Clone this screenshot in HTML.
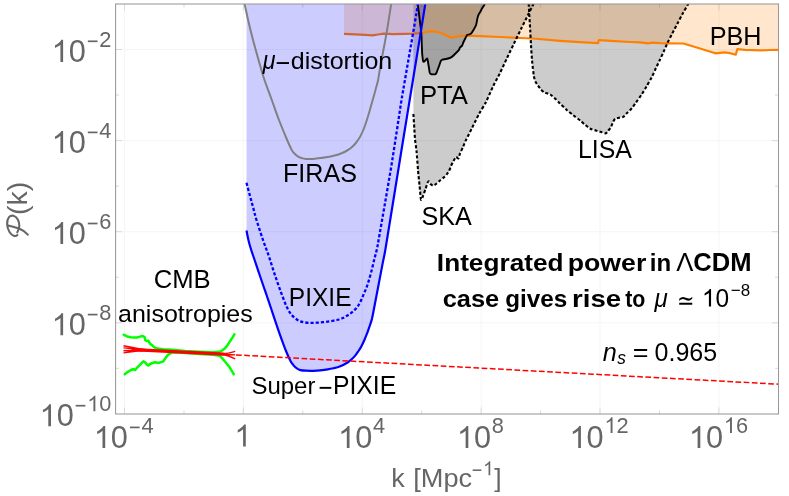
<!DOCTYPE html>
<html><head><meta charset="utf-8"><title>Power spectrum constraints</title>
<style>html,body{margin:0;padding:0;background:#fff;}body{width:789px;height:496px;overflow:hidden;font-family:"Liberation Sans",sans-serif;}svg text{white-space:pre;}</style>
</head><body>
<svg width="789" height="496" viewBox="0 0 789 496" style="display:block;will-change:transform">
<rect x="0" y="0" width="789" height="496" fill="#fff"/>
<defs><clipPath id="cp"><rect x="115.6" y="4.0" width="662.9" height="410.0"/></clipPath></defs>
<path d="M124.5 4.0 V414.0 M243.4 4.0 V414.0 M362.3 4.0 V414.0 M481.2 4.0 V414.0 M600.0 4.0 V414.0 M718.9 4.0 V414.0 M115.6 49.5 H778.5 M115.6 140.6 H778.5 M115.6 231.7 H778.5 M115.6 322.8 H778.5" stroke="#f5f5f5" stroke-width="1" fill="none"/>
<path d="M124.5 414.0 v-6.5 M124.5 4.0 v6.5 M184.0 414.0 v-3.5 M184.0 4.0 v3.5 M243.4 414.0 v-6.5 M243.4 4.0 v6.5 M302.8 414.0 v-3.5 M302.8 4.0 v3.5 M362.3 414.0 v-6.5 M362.3 4.0 v6.5 M421.7 414.0 v-3.5 M421.7 4.0 v3.5 M481.2 414.0 v-6.5 M481.2 4.0 v6.5 M540.6 414.0 v-3.5 M540.6 4.0 v3.5 M600.0 414.0 v-6.5 M600.0 4.0 v6.5 M659.5 414.0 v-3.5 M659.5 4.0 v3.5 M718.9 414.0 v-6.5 M718.9 4.0 v6.5 M115.6 368.3 h3.5 M778.5 368.3 h-3.5 M115.6 322.8 h6.5 M778.5 322.8 h-6.5 M115.6 277.2 h3.5 M778.5 277.2 h-3.5 M115.6 231.7 h6.5 M778.5 231.7 h-6.5 M115.6 186.1 h3.5 M778.5 186.1 h-3.5 M115.6 140.6 h6.5 M778.5 140.6 h-6.5 M115.6 95.0 h3.5 M778.5 95.0 h-3.5 M115.6 49.5 h6.5 M778.5 49.5 h-6.5" stroke="#dadada" stroke-width="1" fill="none"/>
<g clip-path="url(#cp)">
<path d="M413.4 4.0 L413.4 114.0 C413.5 115.6 414.1 125.0 414.3 128.0 C414.5 131.0 414.8 137.2 415.1 140.0 C415.4 142.8 416.3 148.5 416.6 152.0 C416.9 155.5 417.7 166.2 418.0 170.0 C418.3 173.8 419.1 181.5 419.5 185.0 C419.9 188.5 420.6 198.3 421.0 199.6 C421.4 200.9 422.5 197.2 423.0 196.0 C423.5 194.8 425.0 190.5 425.5 189.0 C426.0 187.5 427.1 183.9 427.5 183.0 C427.9 182.1 428.3 181.1 428.7 181.2 C429.1 181.3 430.0 183.5 430.5 184.0 C431.0 184.5 432.4 185.6 433.0 185.6 C433.6 185.6 435.2 184.6 436.0 184.0 C436.8 183.4 439.0 181.3 440.0 180.5 C441.0 179.7 443.7 177.6 444.5 176.8 C445.3 176.0 446.5 174.7 447.0 174.0 C447.5 173.3 448.5 171.9 449.0 171.0 C449.5 170.1 450.5 167.2 451.0 166.0 C451.5 164.8 452.9 162.1 453.5 161.0 C454.1 159.9 455.4 157.3 456.0 157.0 C456.6 156.7 457.9 158.8 458.4 158.4 C458.9 158.0 459.5 154.8 460.0 153.5 C460.5 152.2 462.3 148.6 463.0 147.0 C463.7 145.4 464.9 142.2 466.0 140.0 C467.1 137.8 470.5 131.0 472.0 128.0 C473.5 125.0 477.4 117.0 479.0 114.0 C480.6 111.0 484.4 105.2 486.0 102.0 C487.6 98.8 491.4 89.9 493.0 86.5 C494.6 83.1 498.4 76.3 500.0 73.0 C501.6 69.7 505.4 61.4 507.0 58.0 C508.6 54.6 512.4 46.9 514.0 43.5 C515.6 40.1 519.4 32.3 521.0 29.0 C522.6 25.7 526.5 18.0 528.0 15.0 C529.5 12.0 533.0 4.9 533.7 3.6 Z" fill="#000" fill-opacity="0.2"/>
<path d="M528.7 3.6 C528.8 5.1 529.1 11.5 529.3 15.0 C529.5 18.5 530.0 26.0 530.2 30.0 C530.4 34.0 530.8 41.0 531.0 45.0 C531.2 49.0 531.7 56.5 532.0 60.0 C532.3 63.5 532.9 68.8 533.2 71.0 C533.5 73.2 533.6 75.1 533.9 76.5 C534.2 77.9 534.9 80.3 535.4 81.5 C535.9 82.7 537.3 84.4 538.0 85.5 C538.7 86.6 540.2 88.6 541.0 89.5 C541.8 90.4 543.4 92.0 544.2 92.5 C545.0 93.0 546.2 93.0 547.0 93.3 C547.8 93.6 549.4 93.9 550.3 94.5 C551.2 95.1 552.7 96.3 554.0 97.5 C555.3 98.7 558.3 101.9 560.0 103.5 C561.7 105.1 564.8 108.2 566.5 109.7 C568.2 111.2 571.1 113.5 573.0 115.0 C574.9 116.5 579.0 119.5 580.7 120.9 C582.4 122.3 584.6 124.4 586.0 125.5 C587.4 126.6 589.6 128.3 590.9 129.0 C592.2 129.7 594.7 130.1 596.0 130.5 C597.3 130.9 599.2 131.4 600.5 131.8 C601.8 132.2 604.5 133.5 605.5 133.4 C606.5 133.3 607.3 131.9 608.0 131.0 C608.7 130.1 610.3 128.2 611.0 127.0 C611.7 125.8 612.4 123.1 613.0 122.0 C613.6 120.9 614.4 119.4 615.2 118.8 C616.0 118.2 617.9 118.1 619.0 117.8 C620.1 117.5 622.2 117.4 623.3 116.8 C624.4 116.2 625.9 114.1 627.0 113.0 C628.1 111.9 630.2 110.1 631.4 108.7 C632.6 107.3 634.6 104.4 636.0 102.5 C637.4 100.6 640.2 96.6 641.6 94.5 C643.0 92.4 645.2 88.8 646.5 86.5 C647.8 84.2 650.4 79.7 651.7 77.2 C653.0 74.7 654.9 70.3 656.0 68.0 C657.1 65.7 658.8 62.1 659.8 60.0 C660.8 57.9 662.5 54.2 663.5 52.0 C664.5 49.8 666.2 45.7 667.3 43.3 C668.4 40.9 670.6 36.8 672.0 34.0 C673.4 31.2 676.5 25.3 678.0 22.5 C679.5 19.7 681.6 15.5 683.0 13.0 C684.4 10.5 687.8 4.9 688.5 3.6 Z" fill="#000" fill-opacity="0.2"/>
<path d="M417.7 3.6 C417.9 5.3 419.1 14.6 419.5 18.0 C419.9 21.4 421.0 29.9 421.3 33.0 C421.6 36.1 421.7 42.4 421.8 45.0 C421.9 47.6 422.1 53.1 422.3 55.0 C422.5 56.9 422.9 60.8 423.2 61.5 C423.5 62.2 424.3 61.4 424.8 61.0 C425.3 60.6 426.8 58.3 427.2 58.4 C427.6 58.5 427.8 60.9 428.0 62.0 C428.2 63.1 428.8 66.7 429.0 68.0 C429.2 69.3 429.5 72.3 429.8 73.0 C430.1 73.7 430.8 74.1 431.5 74.2 C432.2 74.3 434.9 74.5 435.5 74.2 C436.1 73.9 436.6 72.5 437.0 71.5 C437.4 70.5 438.9 66.5 439.3 65.3 C439.7 64.1 440.4 61.7 440.8 61.0 C441.2 60.3 441.9 59.8 442.5 59.6 C443.1 59.4 445.0 59.2 446.0 59.0 C447.0 58.8 449.8 58.2 450.7 57.7 C451.6 57.2 453.3 55.7 454.0 55.0 C454.7 54.3 456.4 52.6 457.0 52.0 C457.6 51.4 458.6 50.3 459.0 49.8 C459.4 49.3 459.6 48.0 460.0 47.5 C460.4 47.0 461.7 46.2 462.1 45.6 C462.5 45.0 463.1 42.9 463.5 42.0 C463.9 41.1 465.1 38.8 465.5 38.0 C465.9 37.2 466.8 35.3 467.2 34.9 C467.6 34.5 468.6 34.7 469.0 34.5 C469.4 34.3 470.5 34.1 471.0 33.6 C471.5 33.1 472.9 31.0 473.5 30.0 C474.1 29.0 475.5 26.8 476.0 25.3 C476.5 23.8 477.3 18.7 477.6 17.5 C477.9 16.3 478.3 15.3 478.6 14.6 C478.9 13.9 480.1 12.3 480.5 11.5 C480.9 10.7 481.8 8.9 482.3 8.0 C482.8 7.1 484.7 4.1 485.0 3.6 Z" fill="#000" fill-opacity="0.2"/>
<path d="M344 4.0 L344.0 33.9 L355.0 34.3 L365.0 34.9 L372.7 35.4 L378.0 34.5 L383.6 33.6 L392.6 34.1 L405.0 33.8 L412.6 33.6 L419.9 33.2 L422.0 33.0 L427.0 31.8 L432.0 31.2 L437.0 32.0 L442.0 33.5 L447.0 35.8 L450.5 37.3 L453.0 37.6 L456.0 36.8 L460.0 36.0 L468.0 35.7 L480.0 36.1 L500.0 37.0 L520.0 38.0 L533.0 38.5 L560.0 40.8 L580.0 42.2 L598.0 43.2 L598.8 40.2 L615.0 41.2 L630.0 42.0 L640.0 42.4 L648.0 43.3 L652.0 42.6 L660.0 43.2 L667.0 43.3 L683.4 43.5 L700.0 48.5 L713.0 52.5 L715.7 53.4 L720.0 52.9 L724.8 52.4 L730.0 53.2 L735.8 54.6 L737.3 49.2 L745.0 49.8 L761.0 50.4 L770.0 50.0 L778.7 49.8 L778.5 4.0 Z" fill="rgb(255,128,0)" fill-opacity="0.2"/>
<path d="M344.0 33.9 L355.0 34.3 L365.0 34.9 L372.7 35.4 L378.0 34.5 L383.6 33.6 L392.6 34.1 L405.0 33.8 L412.6 33.6 L419.9 33.2 L422.0 33.0 L427.0 31.8 L432.0 31.2 L437.0 32.0 L442.0 33.5 L447.0 35.8 L450.5 37.3 L453.0 37.6 L456.0 36.8 L460.0 36.0 L468.0 35.7 L480.0 36.1 L500.0 37.0 L520.0 38.0 L533.0 38.5 L560.0 40.8 L580.0 42.2 L598.0 43.2 L598.8 40.2 L615.0 41.2 L630.0 42.0 L640.0 42.4 L648.0 43.3 L652.0 42.6 L660.0 43.2 L667.0 43.3 L683.4 43.5 L700.0 48.5 L713.0 52.5 L715.7 53.4 L720.0 52.9 L724.8 52.4 L730.0 53.2 L735.8 54.6 L737.3 49.2 L745.0 49.8 L761.0 50.4 L770.0 50.0 L778.7 49.8" fill="none" stroke="rgb(255,128,0)" stroke-width="2.2" stroke-linejoin="round"/>
<path d="M246.5 4.0 L246.5 230.5 C246.8 232.1 247.7 237.1 248.4 240.0 C249.1 242.9 249.8 245.5 250.6 248.0 C251.3 250.5 251.9 252.1 252.9 255.0 C253.9 257.9 255.3 262.1 256.5 265.6 C257.7 269.1 258.8 272.5 260.0 276.0 C261.2 279.5 262.4 283.0 263.6 286.5 C264.8 290.0 265.9 293.1 267.2 297.0 C268.5 300.9 269.6 304.0 271.6 310.0 C273.6 316.0 276.9 326.0 279.3 332.8 C281.7 339.6 284.1 346.3 286.0 351.0 C287.9 355.7 289.3 358.7 290.5 361.0 C291.7 363.3 292.2 363.6 293.0 364.6 C293.8 365.6 294.3 366.3 295.1 367.0 C295.9 367.7 296.7 368.4 297.6 368.9 C298.5 369.4 299.0 369.8 300.4 370.1 C301.8 370.4 304.0 370.6 306.0 370.7 C308.0 370.8 310.3 370.9 312.6 370.8 C314.9 370.7 317.5 370.6 320.0 370.3 C322.5 370.1 325.6 369.6 327.8 369.3 C330.1 369.0 331.7 368.7 333.5 368.3 C335.3 367.9 336.8 367.6 338.4 367.0 C340.0 366.4 341.7 365.8 343.2 365.0 C344.7 364.2 346.2 363.4 347.6 362.5 C349.0 361.6 350.2 360.4 351.5 359.3 C352.8 358.2 354.1 357.0 355.2 355.6 C356.3 354.2 357.4 352.7 358.4 351.2 C359.4 349.7 360.3 348.4 361.3 346.5 C362.3 344.6 363.4 342.3 364.4 340.0 C365.4 337.7 366.4 335.1 367.3 332.8 C368.2 330.5 368.9 328.3 369.7 326.0 C370.5 323.7 371.2 321.6 371.9 319.1 C372.5 316.6 372.6 316.1 373.6 310.8 C374.6 305.5 376.6 295.1 378.1 287.2 C379.6 279.3 381.4 269.8 382.6 263.6 C383.8 257.4 383.9 258.1 385.3 250.0 C386.7 241.9 388.6 230.0 391.0 215.0 C393.4 200.0 397.5 175.0 399.9 160.0 C402.3 145.0 403.7 136.7 405.6 125.0 C407.5 113.3 409.6 100.5 411.3 90.0 C413.0 79.5 414.4 71.2 415.9 62.0 C417.4 52.8 418.7 44.7 420.3 35.0 C421.9 25.3 424.5 9.1 425.3 3.9 Z" fill="rgb(0,0,255)" fill-opacity="0.2"/>
<path d="M417.7 3.6 C417.9 5.3 419.1 14.6 419.5 18.0 C419.9 21.4 421.0 29.9 421.3 33.0 C421.6 36.1 421.7 42.4 421.8 45.0 C421.9 47.6 422.1 53.1 422.3 55.0 C422.5 56.9 422.9 60.8 423.2 61.5 C423.5 62.2 424.3 61.4 424.8 61.0 C425.3 60.6 426.8 58.3 427.2 58.4 C427.6 58.5 427.8 60.9 428.0 62.0 C428.2 63.1 428.8 66.7 429.0 68.0 C429.2 69.3 429.5 72.3 429.8 73.0 C430.1 73.7 430.8 74.1 431.5 74.2 C432.2 74.3 434.9 74.5 435.5 74.2 C436.1 73.9 436.6 72.5 437.0 71.5 C437.4 70.5 438.9 66.5 439.3 65.3 C439.7 64.1 440.4 61.7 440.8 61.0 C441.2 60.3 441.9 59.8 442.5 59.6 C443.1 59.4 445.0 59.2 446.0 59.0 C447.0 58.8 449.8 58.2 450.7 57.7 C451.6 57.2 453.3 55.7 454.0 55.0 C454.7 54.3 456.4 52.6 457.0 52.0 C457.6 51.4 458.6 50.3 459.0 49.8 C459.4 49.3 459.6 48.0 460.0 47.5 C460.4 47.0 461.7 46.2 462.1 45.6 C462.5 45.0 463.1 42.9 463.5 42.0 C463.9 41.1 465.1 38.8 465.5 38.0 C465.9 37.2 466.8 35.3 467.2 34.9 C467.6 34.5 468.6 34.7 469.0 34.5 C469.4 34.3 470.5 34.1 471.0 33.6 C471.5 33.1 472.9 31.0 473.5 30.0 C474.1 29.0 475.5 26.8 476.0 25.3 C476.5 23.8 477.3 18.7 477.6 17.5 C477.9 16.3 478.3 15.3 478.6 14.6 C478.9 13.9 480.1 12.3 480.5 11.5 C480.9 10.7 481.8 8.9 482.3 8.0 C482.8 7.1 484.7 4.1 485.0 3.6" fill="none" stroke="#000" stroke-width="1.9" stroke-linejoin="round"/>
<path d="M244.7 3.9 C245.1 5.8 246.0 10.6 247.0 15.0 C248.0 19.4 249.1 24.5 250.5 30.0 C251.9 35.5 253.6 42.2 255.2 48.0 C256.8 53.8 258.4 59.7 260.0 65.0 C261.6 70.3 262.5 74.2 264.5 80.0 C266.5 85.8 269.4 93.3 271.8 100.0 C274.2 106.7 276.6 113.7 279.0 120.0 C281.4 126.3 284.2 133.0 286.3 138.0 C288.4 143.0 290.4 147.4 291.7 149.9 C293.0 152.4 293.2 152.1 294.0 153.0 C294.8 153.9 295.5 154.6 296.3 155.3 C297.1 156.0 297.9 156.7 299.0 157.2 C300.1 157.7 301.4 158.1 302.6 158.4 C303.8 158.7 304.8 158.8 306.0 158.9 C307.2 159.0 308.5 159.0 310.0 159.0 C311.5 159.0 313.2 158.9 315.0 158.7 C316.8 158.5 319.1 158.2 320.9 158.0 C322.7 157.8 324.2 157.6 326.0 157.3 C327.8 157.0 330.1 156.6 331.8 156.2 C333.6 155.8 335.0 155.4 336.5 155.0 C338.0 154.6 339.6 154.0 340.9 153.5 C342.2 153.0 343.3 152.6 344.5 152.0 C345.7 151.4 346.9 150.7 348.1 149.9 C349.4 149.1 350.8 148.1 352.0 147.0 C353.2 145.9 354.4 144.7 355.4 143.5 C356.4 142.3 357.3 141.2 358.2 139.8 C359.1 138.5 359.9 137.2 360.8 135.4 C361.7 133.6 362.8 131.3 363.7 129.0 C364.6 126.7 365.4 124.4 366.3 121.7 C367.2 119.0 368.1 116.0 369.0 113.0 C369.9 110.0 370.9 106.5 371.7 103.6 C372.5 100.7 373.2 98.2 374.0 95.5 C374.8 92.8 375.5 89.9 376.2 87.3 C376.9 84.7 377.3 84.0 378.1 80.0 C378.9 76.0 379.4 71.1 380.8 63.5 C382.2 55.9 384.6 44.4 386.3 34.5 C388.0 24.6 390.4 9.0 391.2 3.9" fill="none" stroke="#808080" stroke-width="2"/>
<path d="M246.5 182.8 C247.1 185.0 248.9 192.0 250.0 196.0 C251.1 200.0 251.9 203.0 253.0 207.0 C254.1 211.0 254.8 214.5 256.5 220.0 C258.2 225.5 260.9 233.9 263.0 240.0 C265.1 246.1 267.1 250.9 269.0 256.6 C270.9 262.3 272.8 268.8 274.7 274.4 C276.6 280.0 278.6 285.7 280.3 290.5 C282.1 295.3 283.9 300.1 285.2 303.4 C286.5 306.6 287.4 308.3 288.3 310.0 C289.2 311.7 289.8 312.5 290.5 313.5 C291.2 314.5 291.8 315.1 292.8 316.1 C293.8 317.1 295.2 318.4 296.5 319.3 C297.8 320.2 298.9 320.9 300.4 321.4 C301.9 321.9 303.7 322.2 305.5 322.5 C307.3 322.8 309.2 322.9 311.1 322.9 C313.0 322.9 315.0 322.8 317.0 322.7 C319.0 322.6 321.1 322.4 323.2 322.2 C325.3 322.0 327.5 321.7 329.5 321.4 C331.5 321.1 333.8 320.6 335.4 320.3 C337.0 320.0 337.8 319.9 339.1 319.5 C340.4 319.1 341.9 318.5 343.0 318.0 C344.1 317.5 344.8 317.0 346.0 316.3 C347.2 315.6 348.7 314.7 350.0 313.8 C351.3 312.9 352.5 311.9 353.7 310.8 C354.9 309.7 356.1 308.8 357.2 307.2 C358.3 305.6 359.4 303.6 360.5 301.5 C361.6 299.4 362.6 296.7 363.6 294.4 C364.6 292.1 365.6 289.9 366.5 287.5 C367.4 285.1 368.1 283.0 369.0 279.9 C369.9 276.8 371.1 272.6 372.0 269.0 C372.9 265.4 373.7 261.7 374.5 258.5 C375.3 255.3 376.0 253.1 376.7 250.0 C377.4 246.9 377.3 247.5 378.6 240.0 C379.9 232.5 382.4 218.3 384.7 205.0 C387.0 191.7 389.7 176.3 392.3 160.0 C394.9 143.7 398.6 118.9 400.4 107.2 C402.2 95.5 401.5 99.9 403.2 90.0 C404.9 80.1 408.0 62.4 410.5 48.0 C413.0 33.6 416.8 11.2 418.0 3.9" fill="none" stroke="#0000ff" stroke-width="2.3" stroke-dasharray="3.2 2"/>
<path d="M246.5 230.5 C246.8 232.1 247.7 237.1 248.4 240.0 C249.1 242.9 249.8 245.5 250.6 248.0 C251.3 250.5 251.9 252.1 252.9 255.0 C253.9 257.9 255.3 262.1 256.5 265.6 C257.7 269.1 258.8 272.5 260.0 276.0 C261.2 279.5 262.4 283.0 263.6 286.5 C264.8 290.0 265.9 293.1 267.2 297.0 C268.5 300.9 269.6 304.0 271.6 310.0 C273.6 316.0 276.9 326.0 279.3 332.8 C281.7 339.6 284.1 346.3 286.0 351.0 C287.9 355.7 289.3 358.7 290.5 361.0 C291.7 363.3 292.2 363.6 293.0 364.6 C293.8 365.6 294.3 366.3 295.1 367.0 C295.9 367.7 296.7 368.4 297.6 368.9 C298.5 369.4 299.0 369.8 300.4 370.1 C301.8 370.4 304.0 370.6 306.0 370.7 C308.0 370.8 310.3 370.9 312.6 370.8 C314.9 370.7 317.5 370.6 320.0 370.3 C322.5 370.1 325.6 369.6 327.8 369.3 C330.1 369.0 331.7 368.7 333.5 368.3 C335.3 367.9 336.8 367.6 338.4 367.0 C340.0 366.4 341.7 365.8 343.2 365.0 C344.7 364.2 346.2 363.4 347.6 362.5 C349.0 361.6 350.2 360.4 351.5 359.3 C352.8 358.2 354.1 357.0 355.2 355.6 C356.3 354.2 357.4 352.7 358.4 351.2 C359.4 349.7 360.3 348.4 361.3 346.5 C362.3 344.6 363.4 342.3 364.4 340.0 C365.4 337.7 366.4 335.1 367.3 332.8 C368.2 330.5 368.9 328.3 369.7 326.0 C370.5 323.7 371.2 321.6 371.9 319.1 C372.5 316.6 372.6 316.1 373.6 310.8 C374.6 305.5 376.6 295.1 378.1 287.2 C379.6 279.3 381.4 269.8 382.6 263.6 C383.8 257.4 383.9 258.1 385.3 250.0 C386.7 241.9 388.6 230.0 391.0 215.0 C393.4 200.0 397.5 175.0 399.9 160.0 C402.3 145.0 403.7 136.7 405.6 125.0 C407.5 113.3 409.6 100.5 411.3 90.0 C413.0 79.5 414.4 71.2 415.9 62.0 C417.4 52.8 418.7 44.7 420.3 35.0 C421.9 25.3 424.5 9.1 425.3 3.9" fill="none" stroke="#0000ff" stroke-width="2.2"/>
<path d="M413.4 114.0 C413.5 115.6 414.1 125.0 414.3 128.0 C414.5 131.0 414.8 137.2 415.1 140.0 C415.4 142.8 416.3 148.5 416.6 152.0 C416.9 155.5 417.7 166.2 418.0 170.0 C418.3 173.8 419.1 181.5 419.5 185.0 C419.9 188.5 420.6 198.3 421.0 199.6 C421.4 200.9 422.5 197.2 423.0 196.0 C423.5 194.8 425.0 190.5 425.5 189.0 C426.0 187.5 427.1 183.9 427.5 183.0 C427.9 182.1 428.3 181.1 428.7 181.2 C429.1 181.3 430.0 183.5 430.5 184.0 C431.0 184.5 432.4 185.6 433.0 185.6 C433.6 185.6 435.2 184.6 436.0 184.0 C436.8 183.4 439.0 181.3 440.0 180.5 C441.0 179.7 443.7 177.6 444.5 176.8 C445.3 176.0 446.5 174.7 447.0 174.0 C447.5 173.3 448.5 171.9 449.0 171.0 C449.5 170.1 450.5 167.2 451.0 166.0 C451.5 164.8 452.9 162.1 453.5 161.0 C454.1 159.9 455.4 157.3 456.0 157.0 C456.6 156.7 457.9 158.8 458.4 158.4 C458.9 158.0 459.5 154.8 460.0 153.5 C460.5 152.2 462.3 148.6 463.0 147.0 C463.7 145.4 464.9 142.2 466.0 140.0 C467.1 137.8 470.5 131.0 472.0 128.0 C473.5 125.0 477.4 117.0 479.0 114.0 C480.6 111.0 484.4 105.2 486.0 102.0 C487.6 98.8 491.4 89.9 493.0 86.5 C494.6 83.1 498.4 76.3 500.0 73.0 C501.6 69.7 505.4 61.4 507.0 58.0 C508.6 54.6 512.4 46.9 514.0 43.5 C515.6 40.1 519.4 32.3 521.0 29.0 C522.6 25.7 526.5 18.0 528.0 15.0 C529.5 12.0 533.0 4.9 533.7 3.6" fill="none" stroke="#000" stroke-width="2.1" stroke-dasharray="3.1 2.1"/>
<path d="M528.7 3.6 C528.8 5.1 529.1 11.5 529.3 15.0 C529.5 18.5 530.0 26.0 530.2 30.0 C530.4 34.0 530.8 41.0 531.0 45.0 C531.2 49.0 531.7 56.5 532.0 60.0 C532.3 63.5 532.9 68.8 533.2 71.0 C533.5 73.2 533.6 75.1 533.9 76.5 C534.2 77.9 534.9 80.3 535.4 81.5 C535.9 82.7 537.3 84.4 538.0 85.5 C538.7 86.6 540.2 88.6 541.0 89.5 C541.8 90.4 543.4 92.0 544.2 92.5 C545.0 93.0 546.2 93.0 547.0 93.3 C547.8 93.6 549.4 93.9 550.3 94.5 C551.2 95.1 552.7 96.3 554.0 97.5 C555.3 98.7 558.3 101.9 560.0 103.5 C561.7 105.1 564.8 108.2 566.5 109.7 C568.2 111.2 571.1 113.5 573.0 115.0 C574.9 116.5 579.0 119.5 580.7 120.9 C582.4 122.3 584.6 124.4 586.0 125.5 C587.4 126.6 589.6 128.3 590.9 129.0 C592.2 129.7 594.7 130.1 596.0 130.5 C597.3 130.9 599.2 131.4 600.5 131.8 C601.8 132.2 604.5 133.5 605.5 133.4 C606.5 133.3 607.3 131.9 608.0 131.0 C608.7 130.1 610.3 128.2 611.0 127.0 C611.7 125.8 612.4 123.1 613.0 122.0 C613.6 120.9 614.4 119.4 615.2 118.8 C616.0 118.2 617.9 118.1 619.0 117.8 C620.1 117.5 622.2 117.4 623.3 116.8 C624.4 116.2 625.9 114.1 627.0 113.0 C628.1 111.9 630.2 110.1 631.4 108.7 C632.6 107.3 634.6 104.4 636.0 102.5 C637.4 100.6 640.2 96.6 641.6 94.5 C643.0 92.4 645.2 88.8 646.5 86.5 C647.8 84.2 650.4 79.7 651.7 77.2 C653.0 74.7 654.9 70.3 656.0 68.0 C657.1 65.7 658.8 62.1 659.8 60.0 C660.8 57.9 662.5 54.2 663.5 52.0 C664.5 49.8 666.2 45.7 667.3 43.3 C668.4 40.9 670.6 36.8 672.0 34.0 C673.4 31.2 676.5 25.3 678.0 22.5 C679.5 19.7 681.6 15.5 683.0 13.0 C684.4 10.5 687.8 4.9 688.5 3.6" fill="none" stroke="#000" stroke-width="2.1" stroke-dasharray="3.1 2.1"/>
<path d="M236 354.9 L778.5 384.2" fill="none" stroke="#ff0000" stroke-width="1.5" stroke-dasharray="5.7 2.5"/>
<path d="M123.7 334.7 L127.1 336.5 L130.7 337.3 L134.0 337.6 L136.8 337.5 L139.2 336.9 L141.6 336.1 L143.2 336.2 L144.6 337.1 L145.2 340.1 L146.6 340.9 L148.3 340.7 L149.3 342.5 L150.1 343.7 L152.5 345.6 L154.3 347.4 L157.3 348.6 L163.4 349.2 L171.8 349.8 L185.0 350.9 L200.0 351.7 L213.0 352.3 L219.3 351.8 L222.0 350.6 L224.7 348.6 L227.2 345.5 L229.6 341.9 L232.0 338.3 L234.4 334.4" fill="none" stroke="#00ff00" stroke-width="2.5" stroke-linejoin="round" stroke-linecap="round"/>
<path d="M124.7 374.3 L128.3 371.6 L131.0 370.0 L133.1 369.1 L135.0 370.0 L136.2 368.8 L137.4 367.3 L140.4 364.3 L142.0 362.6 L143.4 361.3 L144.6 362.0 L145.8 363.1 L147.0 364.6 L148.3 365.5 L149.8 364.2 L151.3 363.5 L154.9 362.2 L157.5 362.8 L159.7 362.7 L163.4 361.3 L165.8 357.6 L168.2 354.6 L171.8 352.6 L175.5 352.2 L185.0 353.1 L200.0 353.9 L213.0 354.7 L219.9 355.8 L222.3 358.4 L224.7 361.3 L227.2 364.2 L229.6 367.3 L231.8 370.8 L233.8 374.3" fill="none" stroke="#00ff00" stroke-width="2.5" stroke-linejoin="round" stroke-linecap="round"/>
<path d="M123.5 345.7 Q137 348.70 152 350.5 M123.5 347.9 Q137 349.25 152 350.5 M123.5 350.7 Q137 349.95 152 350.5 M123.5 352.9 Q137 350.50 152 350.5 M221 354.05 Q229 353.57 235.2 351.4 M221 354.05 Q229 354.45 235.2 354.9 M221 354.05 Q229 355.45 235.2 358.9" fill="none" stroke="#ff0000" stroke-width="1.4"/>
<path d="M133 349.55 L223.5 354.15" fill="none" stroke="#ff0000" stroke-width="3.3" stroke-linecap="round"/>
</g>
<rect x="115.6" y="4.0" width="662.9" height="410.0" fill="none" stroke="#989898" stroke-width="1.05"/>
<path transform="translate(93.77,448.00) scale(0.01499,-0.01499)" d="M763 0H583V1147Q518 1085 412.5 1023Q307 961 223 930V1104Q374 1175 487 1276Q600 1377 647 1472H763Z" fill="#666"/>
<text transform="translate(110.84,448.00) scale(1,1.045)" font-family="Liberation Sans, sans-serif" font-size="30.7" fill="#666">0</text>
<rect x="129.91" y="426.55" width="9.70" height="1.70" fill="#666"/>
<text transform="translate(141.44,433.00) scale(1,1.045)" font-family="Liberation Sans, sans-serif" font-size="21.8" fill="#666">4</text>
<path transform="translate(338.08,448.00) scale(0.01499,-0.01499)" d="M763 0H583V1147Q518 1085 412.5 1023Q307 961 223 930V1104Q374 1175 487 1276Q600 1377 647 1472H763Z" fill="#666"/>
<text transform="translate(355.15,448.00) scale(1,1.045)" font-family="Liberation Sans, sans-serif" font-size="30.7" fill="#666">0</text>
<text transform="translate(373.02,433.00) scale(1,1.045)" font-family="Liberation Sans, sans-serif" font-size="21.8" fill="#666">4</text>
<path transform="translate(456.88,448.00) scale(0.01499,-0.01499)" d="M763 0H583V1147Q518 1085 412.5 1023Q307 961 223 930V1104Q374 1175 487 1276Q600 1377 647 1472H763Z" fill="#666"/>
<text transform="translate(473.95,448.00) scale(1,1.045)" font-family="Liberation Sans, sans-serif" font-size="30.7" fill="#666">0</text>
<text transform="translate(491.82,433.00) scale(1,1.045)" font-family="Liberation Sans, sans-serif" font-size="21.8" fill="#666">8</text>
<path transform="translate(569.47,448.00) scale(0.01499,-0.01499)" d="M763 0H583V1147Q518 1085 412.5 1023Q307 961 223 930V1104Q374 1175 487 1276Q600 1377 647 1472H763Z" fill="#666"/>
<text transform="translate(586.54,448.00) scale(1,1.045)" font-family="Liberation Sans, sans-serif" font-size="30.7" fill="#666">0</text>
<path transform="translate(604.41,433.00) scale(0.01064,-0.01064)" d="M763 0H583V1147Q518 1085 412.5 1023Q307 961 223 930V1104Q374 1175 487 1276Q600 1377 647 1472H763Z" fill="#666"/>
<text transform="translate(616.53,433.00) scale(1,1.045)" font-family="Liberation Sans, sans-serif" font-size="21.8" fill="#666">2</text>
<path transform="translate(688.87,448.00) scale(0.01499,-0.01499)" d="M763 0H583V1147Q518 1085 412.5 1023Q307 961 223 930V1104Q374 1175 487 1276Q600 1377 647 1472H763Z" fill="#666"/>
<text transform="translate(705.94,448.00) scale(1,1.045)" font-family="Liberation Sans, sans-serif" font-size="30.7" fill="#666">0</text>
<path transform="translate(723.81,433.00) scale(0.01064,-0.01064)" d="M763 0H583V1147Q518 1085 412.5 1023Q307 961 223 930V1104Q374 1175 487 1276Q600 1377 647 1472H763Z" fill="#666"/>
<text transform="translate(735.93,433.00) scale(1,1.045)" font-family="Liberation Sans, sans-serif" font-size="21.8" fill="#666">6</text>
<path transform="translate(234.35,446.50) scale(0.01499,-0.01499)" d="M763 0H583V1147Q518 1085 412.5 1023Q307 961 223 930V1104Q374 1175 487 1276Q600 1377 647 1472H763Z" fill="#666"/>
<path transform="translate(51.68,61.90) scale(0.01499,-0.01499)" d="M763 0H583V1147Q518 1085 412.5 1023Q307 961 223 930V1104Q374 1175 487 1276Q600 1377 647 1472H763Z" fill="#666"/>
<text transform="translate(68.75,61.90) scale(1,1.045)" font-family="Liberation Sans, sans-serif" font-size="30.7" fill="#666">0</text>
<rect x="87.82" y="40.45" width="9.70" height="1.70" fill="#666"/>
<text transform="translate(99.35,46.90) scale(1,1.045)" font-family="Liberation Sans, sans-serif" font-size="21.8" fill="#666">2</text>
<path transform="translate(51.68,153.00) scale(0.01499,-0.01499)" d="M763 0H583V1147Q518 1085 412.5 1023Q307 961 223 930V1104Q374 1175 487 1276Q600 1377 647 1472H763Z" fill="#666"/>
<text transform="translate(68.75,153.00) scale(1,1.045)" font-family="Liberation Sans, sans-serif" font-size="30.7" fill="#666">0</text>
<rect x="87.82" y="131.55" width="9.70" height="1.70" fill="#666"/>
<text transform="translate(99.35,138.00) scale(1,1.045)" font-family="Liberation Sans, sans-serif" font-size="21.8" fill="#666">4</text>
<path transform="translate(51.68,244.10) scale(0.01499,-0.01499)" d="M763 0H583V1147Q518 1085 412.5 1023Q307 961 223 930V1104Q374 1175 487 1276Q600 1377 647 1472H763Z" fill="#666"/>
<text transform="translate(68.75,244.10) scale(1,1.045)" font-family="Liberation Sans, sans-serif" font-size="30.7" fill="#666">0</text>
<rect x="87.82" y="222.65" width="9.70" height="1.70" fill="#666"/>
<text transform="translate(99.35,229.10) scale(1,1.045)" font-family="Liberation Sans, sans-serif" font-size="21.8" fill="#666">6</text>
<path transform="translate(51.68,335.20) scale(0.01499,-0.01499)" d="M763 0H583V1147Q518 1085 412.5 1023Q307 961 223 930V1104Q374 1175 487 1276Q600 1377 647 1472H763Z" fill="#666"/>
<text transform="translate(68.75,335.20) scale(1,1.045)" font-family="Liberation Sans, sans-serif" font-size="30.7" fill="#666">0</text>
<rect x="87.82" y="313.75" width="9.70" height="1.70" fill="#666"/>
<text transform="translate(99.35,320.20) scale(1,1.045)" font-family="Liberation Sans, sans-serif" font-size="21.8" fill="#666">8</text>
<path transform="translate(39.56,426.30) scale(0.01499,-0.01499)" d="M763 0H583V1147Q518 1085 412.5 1023Q307 961 223 930V1104Q374 1175 487 1276Q600 1377 647 1472H763Z" fill="#666"/>
<text transform="translate(56.63,426.30) scale(1,1.045)" font-family="Liberation Sans, sans-serif" font-size="30.7" fill="#666">0</text>
<rect x="75.70" y="404.85" width="9.70" height="1.70" fill="#666"/>
<path transform="translate(87.23,411.30) scale(0.01064,-0.01064)" d="M763 0H583V1147Q518 1085 412.5 1023Q307 961 223 930V1104Q374 1175 487 1276Q600 1377 647 1472H763Z" fill="#666"/>
<text transform="translate(99.35,411.30) scale(1,1.045)" font-family="Liberation Sans, sans-serif" font-size="21.8" fill="#666">0</text>
<text transform="translate(391.31,486.80) scale(0.9882,0.95)" font-family="Liberation Sans, sans-serif" font-size="27.3" fill="#666" >k</text>
<text transform="translate(413.20,486.80) scale(0.9963,0.95)" font-family="Liberation Sans, sans-serif" font-size="27.3" fill="#666" >[Mpc</text>
<rect x="472.67" y="469.43" width="8.68" height="1.52" fill="#666"/>
<path transform="translate(482.99,475.20) scale(0.00952,-0.00952)" d="M763 0H583V1147Q518 1085 412.5 1023Q307 961 223 930V1104Q374 1175 487 1276Q600 1377 647 1472H763Z" fill="#666"/>
<text transform="translate(494.34,486.80) scale(0.9707,0.95)" font-family="Liberation Sans, sans-serif" font-size="27.3" fill="#666" >]</text>
<g transform="translate(26.6,215.0) rotate(-90)"><text x="0" y="0" font-family="Liberation Sans, sans-serif" font-size="28.5" fill="#666">(k)</text></g>
<path d="M17.4 235 C15.5 237 12 236 9.5 232 C6.5 227 6.3 220.5 9 217.2 C11.3 214.5 15.5 215.3 17.8 219.5 C19.8 223.3 19.5 228.5 17.3 232.3 M8.3 225.4 C12 226.5 16 227.3 19.5 228.7 C23 230.1 26 232.3 27.8 234.6" fill="none" stroke="#666" stroke-width="2.1" stroke-linecap="round"/>
<text transform="translate(262.87,69.00) scale(0.9309,1.0)" font-family="Liberation Sans, sans-serif" font-size="25" fill="#000" font-style="italic">μ</text>
<rect x="276.7" y="62.1" width="12.3" height="1.9" fill="#000"/>
<text transform="translate(290.80,69.00) scale(1.0005,0.96)" font-family="Liberation Sans, sans-serif" font-size="25" fill="#000" >distortion</text>
<text transform="translate(282.99,182.40) scale(1.0043,1.0)" font-family="Liberation Sans, sans-serif" font-size="25" fill="#000" >FIRAS</text>
<text transform="translate(288.84,305.50) scale(0.9811,1.0)" font-family="Liberation Sans, sans-serif" font-size="25" fill="#000" >PIXIE</text>
<text transform="translate(251.50,394.30) scale(0.9585,0.98)" font-family="Liberation Sans, sans-serif" font-size="25" fill="#000" >Super</text>
<rect x="319.6" y="386.9" width="11.7" height="1.9" fill="#000"/>
<text transform="translate(332.92,394.30) scale(0.9909,1.0)" font-family="Liberation Sans, sans-serif" font-size="25" fill="#000" >PIXIE</text>
<text transform="translate(419.94,103.90) scale(1.0279,1.0)" font-family="Liberation Sans, sans-serif" font-size="25" fill="#000" >PTA</text>
<text transform="translate(421.44,224.90) scale(1.0051,1.0)" font-family="Liberation Sans, sans-serif" font-size="25" fill="#000" >SKA</text>
<text transform="translate(578.01,157.90) scale(0.9942,1.0)" font-family="Liberation Sans, sans-serif" font-size="25" fill="#000" >LISA</text>
<text transform="translate(709.68,45.40) scale(1.0084,1.0)" font-family="Liberation Sans, sans-serif" font-size="25" fill="#000" >PBH</text>
<text transform="translate(153.72,287.90) scale(1.0264,1.0)" font-family="Liberation Sans, sans-serif" font-size="25" fill="#000" >CMB</text>
<text transform="translate(118.10,322.00) scale(0.9992,0.95)" font-family="Liberation Sans, sans-serif" font-size="25" fill="#000" >anisotropies</text>
<text transform="translate(602.69,360.50) scale(1.0122,1.0)" font-family="Liberation Sans, sans-serif" font-size="25" fill="#000" font-style="italic">n</text>
<text transform="translate(617.20,364.20) scale(0.9881,1.0)" font-family="Liberation Sans, sans-serif" font-size="17.5" fill="#000" font-style="italic">s</text>
<text transform="translate(632.85,360.50) scale(1.0776,1.0)" font-family="Liberation Sans, sans-serif" font-size="25" fill="#000" >=</text>
<text transform="translate(654.60,360.50) scale(1.0000,1.0)" font-family="Liberation Sans, sans-serif" font-size="25" fill="#000" >0.965</text>
<text transform="translate(436.87,271.20) scale(1.0280,0.97)" font-family="Liberation Sans, sans-serif" font-size="25.5" fill="#000" font-weight="bold">Integrated</text>
<text transform="translate(567.73,271.20) scale(1.0462,0.97)" font-family="Liberation Sans, sans-serif" font-size="25.5" fill="#000" font-weight="bold">power</text>
<text transform="translate(649.71,271.20) scale(0.9443,0.97)" font-family="Liberation Sans, sans-serif" font-size="25.5" fill="#000" font-weight="bold">in</text>
<text transform="translate(676.24,271.20) scale(1.0075,1.0)" font-family="Liberation Sans, sans-serif" font-size="25.5" fill="#000" >Λ</text>
<text transform="translate(693.28,271.20) scale(1.0030,1.0)" font-family="Liberation Sans, sans-serif" font-size="25.5" fill="#000" font-weight="bold">CDM</text>
<text transform="translate(442.68,306.60) scale(0.9977,0.97)" font-family="Liberation Sans, sans-serif" font-size="25.5" fill="#000" font-weight="bold">case</text>
<text transform="translate(505.13,306.60) scale(0.9519,0.97)" font-family="Liberation Sans, sans-serif" font-size="25.5" fill="#000" font-weight="bold">gives</text>
<text transform="translate(572.07,306.60) scale(1.0825,0.97)" font-family="Liberation Sans, sans-serif" font-size="25.5" fill="#000" font-weight="bold">rise</text>
<text transform="translate(625.19,306.60) scale(0.8372,0.97)" font-family="Liberation Sans, sans-serif" font-size="25.5" fill="#000" font-weight="bold">to</text>
<text transform="translate(654.58,306.60) scale(0.9673,1.0)" font-family="Liberation Sans, sans-serif" font-size="25" fill="#000" font-style="italic">μ</text>
<text transform="translate(676.51,308.60) scale(0.8323,1.0)" font-family="Liberation Sans, sans-serif" font-size="25" fill="#000" >≃</text>
<path transform="translate(701.93,306.60) scale(0.01196,-0.01196)" d="M763 0H583V1147Q518 1085 412.5 1023Q307 961 223 930V1104Q374 1175 487 1276Q600 1377 647 1472H763Z" fill="#000"/>
<text transform="translate(715.55,306.60) scale(1,1.045)" font-family="Liberation Sans, sans-serif" font-size="24.5" fill="#000">0</text>
<text transform="translate(730.85,296.10) scale(0.9799,1.0)" font-family="Liberation Sans, sans-serif" font-size="17.3" fill="#000" >−8</text>
</svg>
</body></html>
